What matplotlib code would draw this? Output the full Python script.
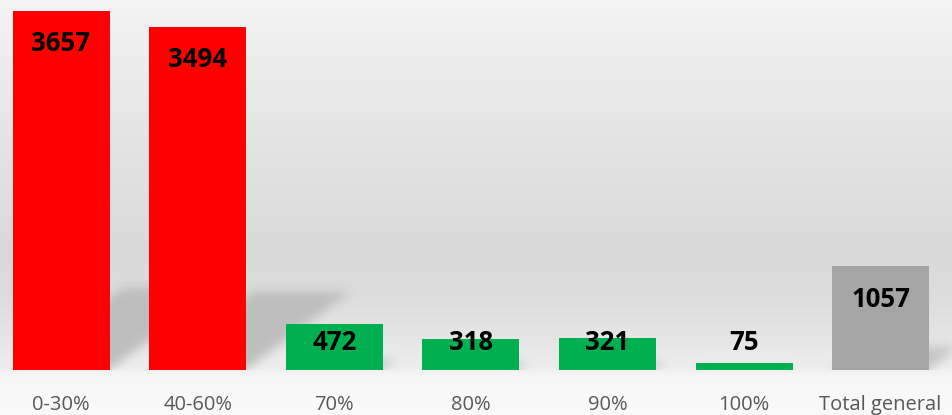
import matplotlib
matplotlib.use("Agg")
import matplotlib.pyplot as plt
import numpy as np

categories = ["0-30%", "40-60%", "70%", "80%", "90%", "100%", "Total general"]
values = [3657, 3494, 472, 318, 321, 75, 1057]
bar_colors = ["#ff0000", "#ff0000", "#00b050", "#00b050", "#00b050", "#00b050", "#a5a5a5"]

W, H = 953, 415
BASE_PX = 370          # baseline, pixels from the top
YMAX = 3769
XLIM = (-0.447, 6.530)
BAR_W = 0.71


def blur(img, sigma):
    r = int(3 * sigma)
    k = np.exp(-0.5 * (np.arange(-r, r + 1) / sigma) ** 2)
    k /= k.sum()
    img = np.apply_along_axis(lambda m: np.convolve(m, k, mode="same"), 1, img)
    img = np.apply_along_axis(lambda m: np.convolve(m, k, mode="same"), 0, img)
    return img


def main():
    fig = plt.figure(figsize=(W / 100, H / 100), dpi=100)

    # background gradient over the whole figure
    bg = fig.add_axes([0, 0, 1, 1], zorder=0)
    stops_y = [0, 60, 120, 180, 250, 300, 340, 368, 376, 415]
    stops_g = [244, 237, 230, 224, 218, 221, 230, 238, 247, 250]
    g = np.interp(np.arange(H), stops_y, stops_g) / 255.0
    grad = np.repeat(g[:, None], 4, axis=1)
    bg.imshow(np.dstack([grad, grad, grad]), aspect="auto", extent=(0, 1, 0, 1))
    bg.axis("off")

    ax = fig.add_axes([0, 1 - BASE_PX / H, 1, BASE_PX / H], zorder=1)
    ax.patch.set_visible(False)
    ax.set_xlim(*XLIM)
    ax.set_ylim(0, YMAX)
    x = np.arange(len(values))

    # soft perspective shadows behind the bars
    nx, ny = W, BASE_PX
    gx = np.linspace(XLIM[0], XLIM[1], nx)
    gy = np.linspace(0, YMAX, ny)
    XX, YY = np.meshgrid(gx, gy)
    mask = np.zeros((ny, nx))
    for xi, v in zip(x, values):
        hs = 0.23 * v
        dx = v * 2.2e-4
        t = YY / hs
        inside = (YY <= hs) & (XX >= xi - BAR_W / 2 + dx * t) & (XX <= xi + BAR_W / 2 + dx * t)
        mask = np.maximum(mask, inside * (1 - 0.35 * np.clip(t, 0, 1)))
    mask = blur(mask, 5)
    shadow = np.zeros((ny, nx, 4))
    shadow[..., 3] = 0.2 * mask
    ax.imshow(shadow, origin="lower", aspect="auto",
              extent=(XLIM[0], XLIM[1], 0, YMAX), zorder=1)

    ax.bar(x, values, width=BAR_W, color=bar_colors, zorder=2)

    px = BASE_PX / YMAX   # pixels per data unit
    for xi, v in zip(x, values):
        ly = max(v - 33 / px, 28 / px)
        ax.text(xi, ly, str(v), ha="center", va="center", fontsize=18.5,
                fontweight="bold", family="Open Sans", color="black", zorder=3)

    ax.set_xticks(x)
    ax.set_xticklabels(categories, fontsize=14.5, family="Open Sans", color="#595959")
    ax.tick_params(axis="x", length=0, pad=18)
    ax.set_yticks([])
    for s in ax.spines.values():
        s.set_visible(False)
    ax.set_xlim(*XLIM)
    ax.set_ylim(0, YMAX)

    fig.savefig("out.png", dpi=100)


if __name__ == "__main__":
    main()
